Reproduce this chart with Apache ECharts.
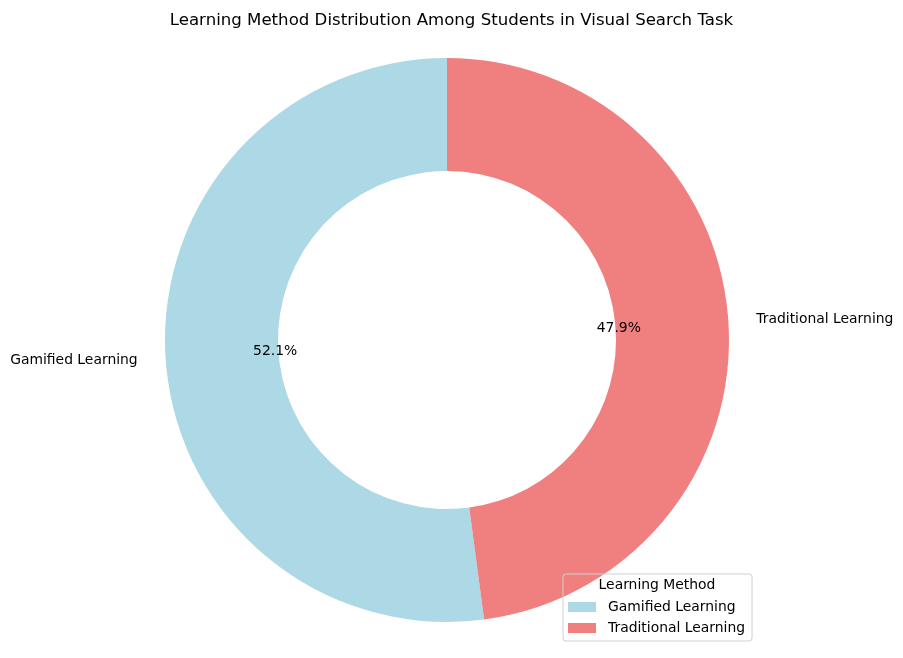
<!DOCTYPE html>
<html>
<head>
<meta charset="utf-8">
<title>Learning Method Distribution</title>
<script src="https://cdn.jsdelivr.net/npm/echarts@6/dist/echarts.min.js"></script>
<style>
    html, body { margin: 0; padding: 0; background: #fff; }
    #chart { width: 903px; height: 658px; }
</style>
</head>
<body>
<div id="chart"></div>
<script>
// 数据
var methods = ['Gamified Learning', 'Traditional Learning']
var shares = [52.1, 47.9]
var colors = ['#ADD8E6', '#F08080']

; (function (win, doc, echarts) {
    var FONT = 'DejaVu Sans'
    var cx = 447, cy = 340
    var outerR = 282, innerR = 169

    var pieData = methods.map(function (name, i) {
        return { name: name, value: shares[i], itemStyle: { color: colors[i] } }
    })

    var option = {
        animation: false,
        backgroundColor: '#fff',
        textStyle: { fontFamily: FONT },
        title: [
            {
                text: 'Learning Method Distribution Among Students in Visual Search Task',
                left: 'center',
                top: 7,
                textStyle: { fontFamily: FONT, fontSize: 16.6, fontWeight: 'normal', color: '#000' },
            },
            {
                // legend title
                text: 'Learning Method',
                left: 657,
                top: 578,
                textAlign: 'center',
                padding: 0,
                textStyle: { fontFamily: FONT, fontSize: 13.9, fontWeight: 'normal', color: '#000' },
            },
        ],
        legend: {
            orient: 'vertical',
            left: 563,
            top: 574,
            padding: [26, 7, 6, 5],
            borderColor: '#d0d0d0',
            borderWidth: 1,
            borderRadius: 3,
            itemWidth: 28,
            itemHeight: 10,
            itemGap: 7,
            icon: 'rect',
            data: methods,
            textStyle: { fontFamily: FONT, fontSize: 13.9, color: '#000', lineHeight: 14, padding: [0, 0, 0, 7] },
        },
        series: [
            {
                // 环形主体 + 外侧标签
                name: 'Learning Method',
                type: 'pie',
                center: [cx, cy],
                radius: [innerR, outerR],
                startAngle: 90,
                clockwise: false,
                avoidLabelOverlap: false,
                data: pieData,
                label: {
                    show: true,
                    position: 'outside',
                    formatter: '{b}',
                    fontFamily: FONT,
                    fontSize: 13.9,
                    color: '#000',
                    distanceToLabelLine: 0,
                },
                labelLine: { show: false, length: 28, length2: 0 },
                emphasis: { disabled: true },
            },
            {
                // 百分比标签 (透明扇区, 半径 0.6R)
                name: 'pct',
                type: 'pie',
                silent: true,
                center: [cx, cy],
                radius: [0, outerR * 1.2],
                startAngle: 90,
                clockwise: false,
                z: 3,
                data: methods.map(function (name, i) {
                    return { name: name, value: shares[i] }
                }),
                itemStyle: { color: 'rgba(0,0,0,0)' },
                label: {
                    show: true,
                    position: 'inside',
                    formatter: function (p) { return p.value.toFixed(1) + '%' },
                    fontFamily: FONT,
                    fontSize: 13.9,
                    color: '#000',
                },
                labelLine: { show: false },
                emphasis: { disabled: true },
                tooltip: { show: false },
            },
        ],
    }

    var chart = echarts.init(doc.getElementById('chart'))
    chart.setOption(option)
})(window, document, window.echarts)
</script>
</body>
</html>
